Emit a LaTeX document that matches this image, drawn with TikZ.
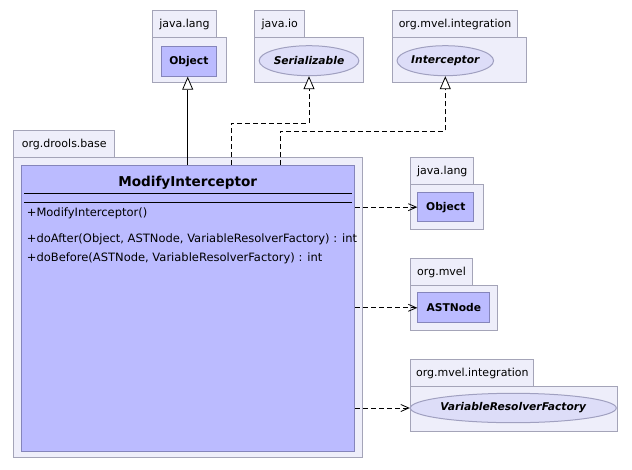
\documentclass[tikz,border=0pt]{standalone}
\usepackage{fontspec}
\setmainfont{DejaVu Sans}
\usetikzlibrary{arrows.meta,shapes.geometric}
\definecolor{pkgfill}{HTML}{EEEEFA}
\definecolor{pkgline}{HTML}{A4A4B8}
\definecolor{clsfill}{HTML}{BBBBFF}
\definecolor{clsline}{HTML}{8585BB}
\definecolor{ifcfill}{HTML}{DDDDF8}
\definecolor{ifcline}{HTML}{A0A0C0}
\tikzset{
  pkgtab/.style={draw=pkgline, fill=pkgfill, line width=1pt, inner sep=0pt, anchor=north west, font=\fontsize{11}{13}\selectfont},
  pkgbody/.style={draw=pkgline, fill=pkgfill, line width=1pt, inner sep=0pt, anchor=north west},
  clsbox/.style={draw=clsline, fill=clsfill, line width=1pt, inner sep=0pt, anchor=north west, font=\fontsize{10.7}{12}\selectfont\bfseries},
  ifcbox/.style={ellipse, draw=ifcline, fill=ifcfill, line width=1pt, inner sep=0pt, font=\fontsize{10.7}{12}\selectfont\bfseries\itshape},
  member/.style={anchor=west, inner sep=0pt, font=\fontsize{11.5}{13}\selectfont},
  gen/.style={line width=0.8pt, -{Triangle[fill=white, length=13pt, width=11pt, line width=0.8pt]}},
  real/.style={gen, dash pattern=on 5pt off 3pt},
  dep/.style={line width=0.8pt, dash pattern=on 5pt off 3pt, -{Straight Barb[length=8pt, width=7pt, line width=0.8pt]}}
}
\begin{document}
\begin{tikzpicture}[x=1pt, y=-1pt]
\useasboundingbox (0,0) rectangle (632,469);
% top packages
\node[pkgtab, minimum width=63.4pt, minimum height=27pt] (p1t) at (152.3,10) {java.lang};
\node[pkgbody, minimum width=73.4pt, minimum height=45pt] (p1b) at (152.3,37) {};
\node[clsbox, minimum width=55.3pt, minimum height=30pt] (obj1) at (160.7,45.7) {Object};
\node[pkgtab, minimum width=50pt, minimum height=27pt] (p2t) at (254.3,10) {java.io};
\node[pkgbody, minimum width=109pt, minimum height=45pt] (p2b) at (254.3,37) {};
\node[ifcbox, minimum width=96pt, minimum height=30pt] (ser) at (309,60.7) {Serializable};
\node[pkgtab, minimum width=124.4pt, minimum height=27pt] (p3t) at (392.3,10) {org.mvel.integration};
\node[pkgbody, minimum width=133.4pt, minimum height=45pt] (p3b) at (392.3,37) {};
\node[ifcbox, minimum width=92.7pt, minimum height=30pt] (itc) at (445.3,60.7) {Interceptor};
% main package
\node[pkgtab, minimum width=101pt, minimum height=27.3pt] (p4t) at (13.3,130) {org.drools.base};
\node[pkgbody, minimum width=349pt, minimum height=300pt] (p4b) at (13.3,157.3) {};
\node[clsbox, minimum width=333.3pt, minimum height=285.7pt] (mi) at (21,165) {};
\node[inner sep=0pt, font=\fontsize{13.6}{16}\selectfont\bfseries] (mit) at (187.7,182.3) {ModifyInterceptor};
\coordinate (l1a) at (24.3,193.3);
\coordinate (l1b) at (352.3,193.3);
\coordinate (l2a) at (24.3,202.3);
\coordinate (l2b) at (352.3,202.3);
\draw[line width=0.9pt] (l1a) -- (l1b);
\draw[line width=0.9pt] (l2a) -- (l2b);
\node[member] (m1) at (26.7,213.3) {+ModifyInterceptor()};
\node[member] (m2) at (26.7,239) {+doAfter(Object, ASTNode, VariableResolverFactory) : int};
\node[member] (m3) at (26.7,258.3) {+doBefore(ASTNode, VariableResolverFactory) : int};
% right packages
\node[pkgtab, minimum width=63pt, minimum height=26.7pt] (p5t) at (410.3,157.3) {java.lang};
\node[pkgbody, minimum width=72.4pt, minimum height=45.3pt] (p5b) at (410.3,184) {};
\node[clsbox, minimum width=56pt, minimum height=28.7pt] (obj2) at (417.3,192.3) {Object};
\node[pkgtab, minimum width=61.4pt, minimum height=26.7pt] (p6t) at (410.3,258.3) {org.mvel};
\node[pkgbody, minimum width=87pt, minimum height=45pt] (p6b) at (410.3,285) {};
\node[clsbox, minimum width=72pt, minimum height=30pt] (ast) at (417.3,292.3) {ASTNode};
\node[pkgtab, minimum width=123pt, minimum height=26.4pt] (p7t) at (410.3,359.3) {org.mvel.integration};
\node[pkgbody, minimum width=207pt, minimum height=45.3pt] (p7b) at (410.3,385.7) {};
\node[ifcbox, minimum width=192pt, minimum height=29.4pt] (vrf) at (513.3,408) {VariableResolverFactory};
% connectors
\coordinate (a1) at (187.7,165);
\draw[gen] (a1) -- (a1 |- obj1.south);
\coordinate (b1) at (231,165);
\coordinate (b2) at (231,123.3);
\draw[real] (b1) -- (b2) -| (ser.south);
\coordinate (c1) at (280,165);
\coordinate (c2) at (280,131);
\draw[real] (c1) -- (c2) -| (itc.south);
\draw[dep] (mi.east |- obj2.west) -- (obj2.west);
\draw[dep] (mi.east |- ast.west) -- (ast.west);
\draw[dep] (mi.east |- vrf.west) -- (vrf.west);
\end{tikzpicture}
\end{document}
